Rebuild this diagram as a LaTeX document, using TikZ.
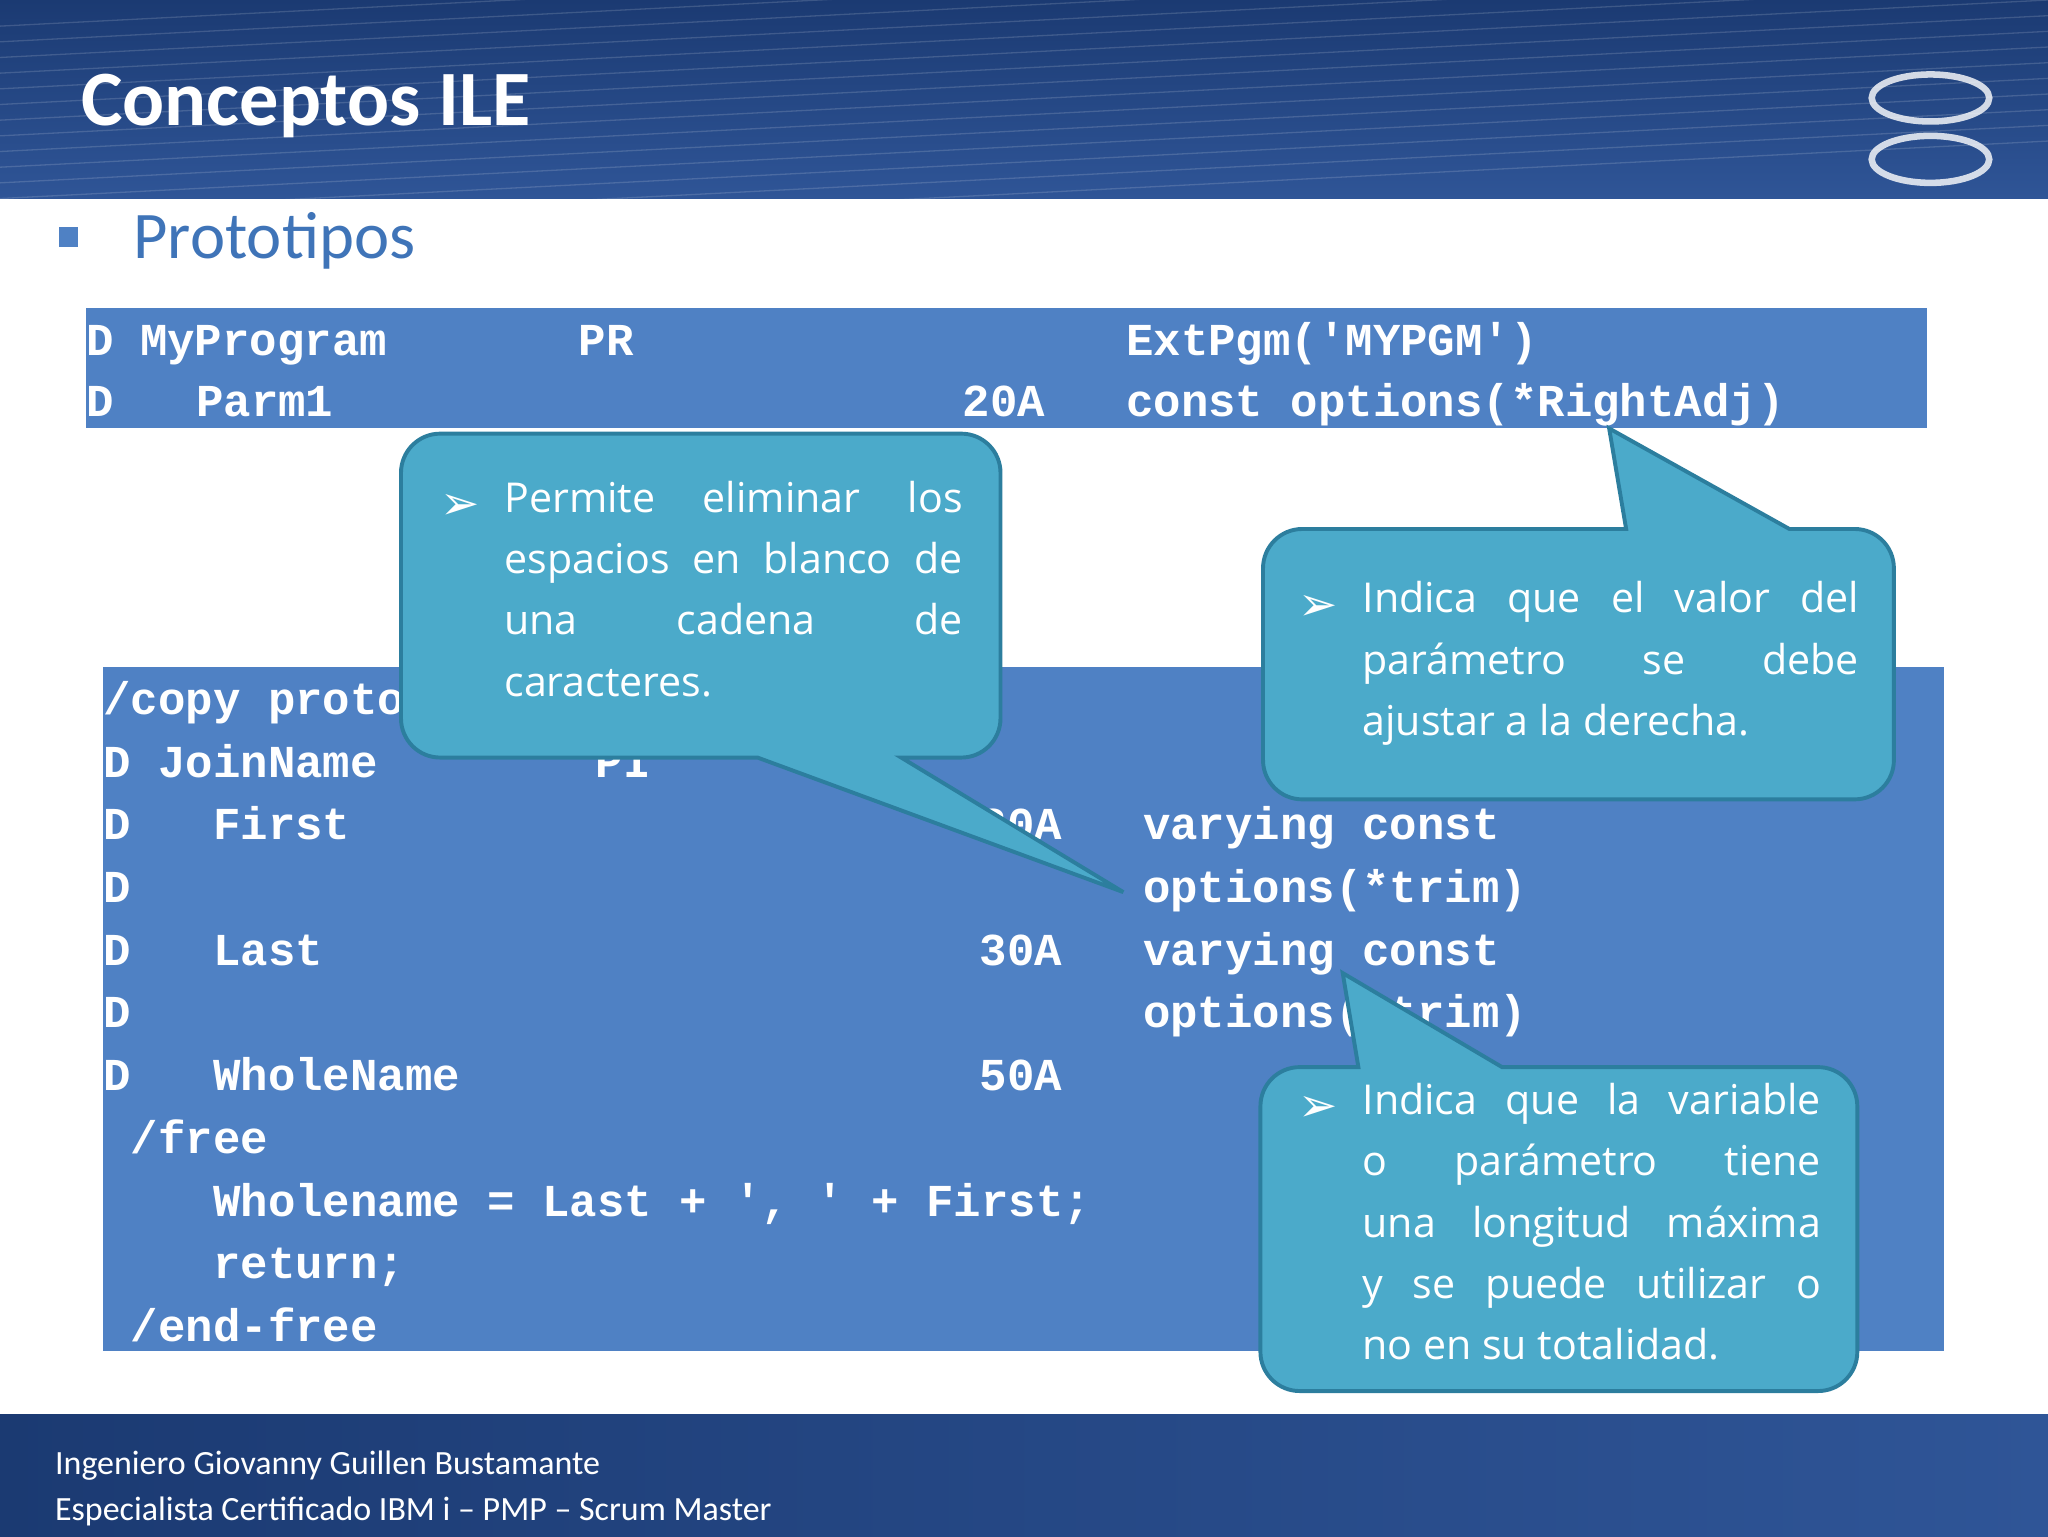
\documentclass[tikz,border=0pt]{standalone}
\usepackage{fontspec}
\setmainfont{Carlito}
\newfontfamily\codefont{Liberation Mono}
\newfontfamily\dingfont{DejaVu Sans}
\newfontfamily\callfont{Open Sans}
\definecolor{hdr}{HTML}{2F5597}
\definecolor{hdrdark}{HTML}{1B3A72}
\definecolor{codebg}{HTML}{4F81C4}
\definecolor{callfill}{HTML}{4BAACA}
\definecolor{callline}{HTML}{2C7E9E}
\definecolor{protoc}{HTML}{3F74B8}
\tikzset{
 code/.style={anchor=base west,inner sep=0pt,text=white,font=\codefont\bfseries\fontsize{35}{40}\selectfont},
 callout/.style={fill=callfill,draw=callline,line width=3pt},
 calltext/.style={anchor=north west,inner sep=0pt,text=white,align=justify,font=\callfont\fontsize{31.5}{47}\selectfont},
 foot/.style={anchor=base west,inner sep=0pt,text=white,font=\fontsize{26}{30}\selectfont}
}
\newcommand{\arr}{{\dingfont\fontsize{36}{36}\selectfont ➢}}
\begin{document}
\begin{tikzpicture}[x=1pt,y=-1pt]
\useasboundingbox (0,0) rectangle (1568,1176);
% header
\shade[top color=hdrdark,bottom color=hdr] (0,0) rectangle (1568,152);
\foreach \i in {0,...,14}{\draw[white,opacity=0.15,line width=1pt] (0,{20+\i*12}) -- (1568,{-60+\i*12});}
\draw[white,opacity=0.8,line width=5pt] (1478,75) ellipse (45 and 18);
\draw[white,opacity=0.8,line width=5pt] (1478,122) ellipse (45 and 18);
\node[anchor=base west,inner sep=0pt,text=white,font=\bfseries\fontsize{60}{66}\selectfont] (title) at (62,96) {Conceptos ILE};
% subtitle
\fill[codebg] (45,174) rectangle (60,189);
\node[anchor=base west,inner sep=0pt,text=protoc,font=\fontsize{51}{58}\selectfont] (sub) at (102,198) {Prototipos};
% code box 1
\fill[codebg] (66,236) rectangle (1475,328);
\node[code] (a1) at (66,272) {D};
\node[code] (a2) at (107,272) {MyProgram};
\node[code] (a3) at (443,272) {PR};
\node[code] (a4) at (862,272) {ExtPgm('MYPGM')};
\node[code] (b1) at (66,319) {D};
\node[code] (b2) at (150,319) {Parm1};
\node[code] (b3) at (737,319) {20A};
\node[code] (b4) at (862,319) {const options(*RightAdj)};
% code box 2
\fill[codebg] (79,511) rectangle (1488,1034);
\node[code] (c1) at (79,547) {/copy proto};
\node[code] (d1) at (79,595) {D};
\node[code] (d2) at (121,595) {JoinName};
\node[code] (d3) at (456,595) {PI};
\node[code] (e1) at (79,643) {D};
\node[code] (e2) at (163,643) {First};
\node[code] (e3) at (750,643) {20A};
\node[code] (e4) at (875,643) {varying const};
\node[code] (f1) at (79,691) {D};
\node[code] (f4) at (875,691) {options(*trim)};
\node[code] (g1) at (79,739) {D};
\node[code] (g2) at (163,739) {Last};
\node[code] (g3) at (750,739) {30A};
\node[code] (g4) at (875,739) {varying const};
\node[code] (h1) at (79,787) {D};
\node[code] (h4) at (875,787) {options(*trim)};
\node[code] (i1) at (79,835) {D};
\node[code] (i2) at (163,835) {WholeName};
\node[code] (i3) at (750,835) {50A};
\node[code] (j1) at (100,883) {/free};
\node[code] (k1) at (163,931) {Wholename = Last + ', ' + First;};
\node[code] (l1) at (163,979) {return;};
\node[code] (m1) at (100,1027) {/end-free};
% callout 1
\path[callout] (307,456) [rounded corners=30] -- (307,332) -- (766,332) -- (766,580) [sharp corners] -- (690,580) -- (860,683) -- (580,580) [rounded corners=30] -- (307,580) -- cycle;
\node[anchor=base west,inner sep=0pt,text=white] (k) at (337,398) {\arr};
\node[calltext,text width=351pt] (t1) at (386,368) {Permite\hfill eliminar\hfill los\\ espacios\hfill en\hfill blanco\hfill de\\ una\hfill cadena\hfill de\\ caracteres.};
% callout 2
\path[callout] (967,510) [rounded corners=30] -- (967,405) [sharp corners] -- (1245,405) -- (1232,328) -- (1370,405) [rounded corners=30] -- (1450,405) -- (1450,612) -- (967,612) -- cycle;
\node[anchor=base west,inner sep=0pt,text=white] (k2) at (994,475) {\arr};
\node[calltext,text width=380pt] (t2) at (1043,445) {Indica\hfill que\hfill el\hfill valor\hfill del\\ parámetro\hfill se\hfill debe\\ ajustar a la derecha.};
% callout 3
\path[callout] (965,940) [rounded corners=30] -- (965,817) [sharp corners] -- (1040,817) -- (1028,745) -- (1150,817) [rounded corners=30] -- (1422,817) -- (1422,1065) -- (965,1065) -- cycle;
\node[anchor=base west,inner sep=0pt,text=white] (k3) at (994,859) {\arr};
\node[calltext,text width=351pt] (t3) at (1043,829) {Indica\hfill que\hfill la\hfill variable\\ o\hfill parámetro\hfill tiene\\ una\hfill longitud\hfill máxima\\ y\hfill se\hfill puede\hfill utilizar\hfill o\\ no en su totalidad.};
% footer
\shade[left color=hdrdark,right color=hdr] (0,1083) rectangle (1568,1176);
\node[foot] (f1t) at (42,1129) {Ingeniero Giovanny Guillen Bustamante};
\node[foot] (f2t) at (42,1164) {Especialista Certificado IBM i – PMP – Scrum Master};
\end{tikzpicture}
\end{document}
